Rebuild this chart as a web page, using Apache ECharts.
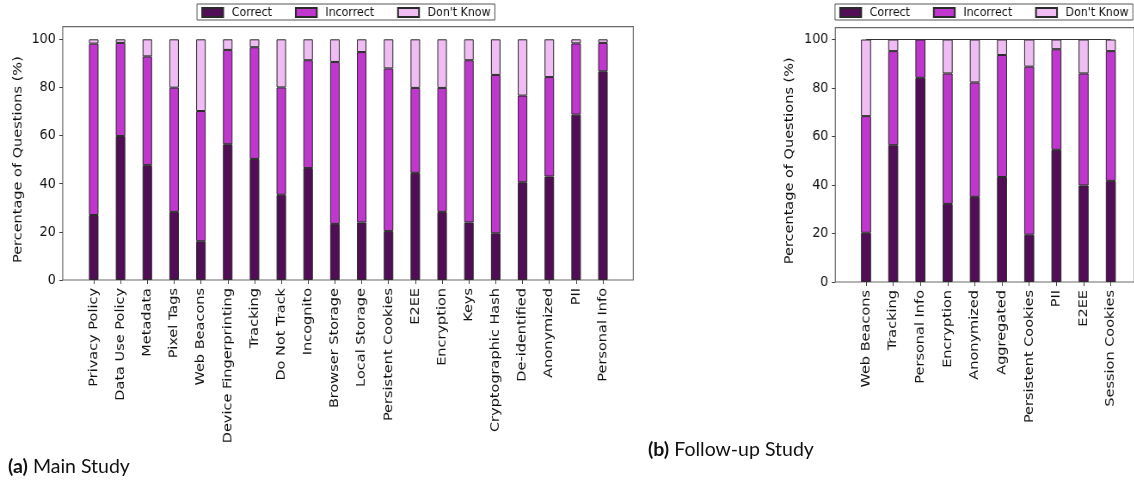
<!DOCTYPE html>
<html>
<head>
<meta charset="utf-8">
<script src="https://cdn.jsdelivr.net/npm/echarts@6/dist/echarts.min.js"></script>
<style>
html,body{margin:0;padding:0;overflow:hidden;background:#fff;width:1134px;height:483px;}
#wrap{position:absolute;left:0;top:0;width:1319px;height:483px;transform:scaleX(0.86);transform-origin:0 0;}
#chart{width:1319px;height:483px;}
#cap{position:absolute;left:0;top:0;width:1134px;height:483px;pointer-events:none;}
</style>
</head>
<body>
<div id="wrap"><div id="chart"></div></div>
<div id="cap"></div>
<script>
// ---------- data ----------
const seriesNames = ['Correct', 'Incorrect', "Don't Know"];
const yTicks = [0, 20, 40, 60, 80, 100];

const mainCategories = ['Privacy Policy', 'Data Use Policy', 'Metadata', 'Pixel Tags', 'Web Beacons',
  'Device Fingerprinting', 'Tracking', 'Do Not Track', 'Incognito', 'Browser Storage', 'Local Storage',
  'Persistent Cookies', 'E2EE', 'Encryption', 'Keys', 'Cryptographic Hash', 'De-identified',
  'Anonymized', 'PII', 'Personal Info'];
const mainCorrect   = [27.0, 59.8, 47.7, 28.3, 16.1, 56.4, 50.3, 35.4, 46.5, 23.3, 23.9, 20.3, 44.5, 28.3, 23.9, 19.4, 40.6, 43.0, 68.7, 86.7];
const mainIncorrect = [71.2, 38.7, 45.2, 51.6, 54.1, 39.2, 46.4, 44.6, 44.8, 67.3, 70.8, 67.6, 35.3, 51.5, 67.4, 65.8, 36.0, 41.3, 29.6, 11.8];
const mainDontKnow  = [1.8, 1.5, 7.1, 20.1, 29.8, 4.4, 3.3, 20.0, 8.7, 9.4, 5.3, 12.1, 20.2, 20.2, 8.7, 14.8, 23.4, 15.7, 1.7, 1.5];

const followCategories = ['Web Beacons', 'Tracking', 'Personal Info', 'Encryption', 'Anonymized',
  'Aggregated', 'Persistent Cookies', 'PII', 'E2EE', 'Session Cookies'];
const followCorrect   = [20.3, 56.4, 84.2, 32.2, 35.1, 43.3, 19.5, 54.5, 39.8, 41.7];
const followIncorrect = [48.1, 38.8, 15.8, 53.8, 47.2, 50.3, 69.3, 41.5, 46.2, 53.5];
const followDontKnow  = [31.6, 4.8, 0.0, 14.0, 17.7, 6.4, 11.2, 4.0, 14.0, 4.8];

const captionA = 'Main Study';
const captionB = 'Follow-up Study';

// ---------- styling / layout ----------
const SX = 0.86;               // horizontal squeeze of the original figure
const X = v => v / SX;         // screen x -> chart x
const colors = ['#510e56', '#bf37cc', '#efbdf3'];
const FONT = 'DejaVu Sans';
const TXT = '#111111';
const frameColor = '#6a6a6a';

function frameGrid(left, top, width, height) {
  return {left: X(left), top: top, width: X(width), height: height, show: true,
          borderColor: frameColor, borderWidth: 1.2, backgroundColor: 'transparent', containLabel: false};
}

const grids = [
  frameGrid(62.7, 26.7, 570.6, 253.3),                                   // 0 main frame
  {left: X(80.3), top: 39.3, width: X(536), height: 240.7, containLabel: false},   // 1 main bars
  frameGrid(835.3, 27.7, 302, 254.3),                                    // 2 follow frame
  {left: X(852.4), top: 39.5, width: X(272), height: 242.5, containLabel: false}   // 3 follow bars
];

function hiddenAxes(gi) {
  return {
    x: {type: 'value', gridIndex: gi, show: false, min: 0, max: 1},
    y: {type: 'value', gridIndex: gi, show: false, min: 0, max: 1}
  };
}

function catAxis(gi, cats) {
  return {
    type: 'category', gridIndex: gi, data: cats,
    axisLine: {show: false},
    axisTick: {show: true, alignWithLabel: true, length: 4, lineStyle: {color: '#444', width: 1}},
    axisLabel: {rotate: 90, interval: 0, margin: 8, fontSize: 14.5, fontFamily: FONT, color: TXT},
    splitLine: {show: false}
  };
}

function valAxis(gi, offset, gap) {
  return {
    type: 'value', gridIndex: gi, min: yTicks[0], max: yTicks[yTicks.length - 1], interval: 20,
    offset: offset,
    name: 'Percentage of Questions (%)', nameLocation: 'middle', nameGap: gap, nameRotate: 90,
    nameTextStyle: {fontSize: 14.5, fontFamily: FONT, color: TXT},
    axisLine: {show: false},
    axisTick: {show: true, length: 4, lineStyle: {color: '#444', width: 1}},
    axisLabel: {margin: 8, fontSize: 14.8, fontFamily: FONT, color: TXT},
    splitLine: {show: false}
  };
}

const h0 = hiddenAxes(0), h2 = hiddenAxes(2);
const xAxes = [h0.x, catAxis(1, mainCategories), h2.x, catAxis(3, followCategories)];
const yAxes = [h0.y, valAxis(1, X(80.3) - X(62.7), 44), h2.y, valAxis(3, X(852.4) - X(835.3), 46)];

function barSeries(name, data, axisIdx, stack, color, bw, extra) {
  return Object.assign({
    type: 'bar', name: name, data: data, stack: stack,
    xAxisIndex: axisIdx, yAxisIndex: axisIdx,
    barWidth: bw,
    itemStyle: {color: color, borderColor: '#2a2a2a', borderWidth: 1},
    emphasis: {disabled: true},
    animation: false
  }, extra || {});
}

const mainData = [mainCorrect, mainIncorrect, mainDontKnow];
const followData = [followCorrect, followIncorrect, followDontKnow];
const series = [];
seriesNames.forEach((n, i) => series.push(barSeries(n, mainData[i], 1, 'main', colors[i], X(9.5))));
seriesNames.forEach((n, i) => {
  const extra = (i === 2) ? {
    markLine: {
      silent: true, symbol: ['none', 'none'], label: {show: false},
      lineStyle: {color: '#333', width: 1, type: 'solid'},
      data: [[{coord: [0, 100]}, {coord: [followCategories.length - 1, 100]}]]
    }
  } : null;
  series.push(barSeries(n, followData[i], 3, 'follow', colors[i], X(10), extra));
});

function legend(left) {
  return {
    data: seriesNames, left: X(left), top: 4, orient: 'horizontal',
    icon: 'rect', itemWidth: X(21), itemHeight: 9, itemGap: X(23),
    padding: [2, 5, 1, 5], borderColor: '#555', borderWidth: 1, borderRadius: 0,
    selectedMode: false,
    textStyle: {fontSize: 12.8, fontFamily: FONT, color: TXT, padding: [0, 0, 0, 5]}
  };
}

const chart = echarts.init(document.getElementById('chart'), null, {renderer: 'canvas', devicePixelRatio: 1});
chart.setOption({
  backgroundColor: '#ffffff',
  animation: false,
  color: colors,
  grid: grids,
  xAxis: xAxes,
  yAxis: yAxes,
  legend: [legend(197), legend(835)],
  series: series
});

const cap = echarts.init(document.getElementById('cap'), null, {renderer: 'canvas', devicePixelRatio: 1});
function capTitle(tag, text, left, top) {
  return {
    text: '{b|' + tag + '} ' + text, left: left, top: top, padding: 0,
    textStyle: {fontSize: 19.5, fontFamily: 'Lato', fontWeight: 'normal', color: TXT,
      rich: {b: {fontSize: 19.5, fontFamily: 'Lato', fontWeight: 'bold', color: TXT}}}
  };
}
cap.setOption({
  animation: false,
  title: [capTitle('(a)', captionA, 8, 457), capTitle('(b)', captionB, 648, 440)]
});
</script>
</body>
</html>
